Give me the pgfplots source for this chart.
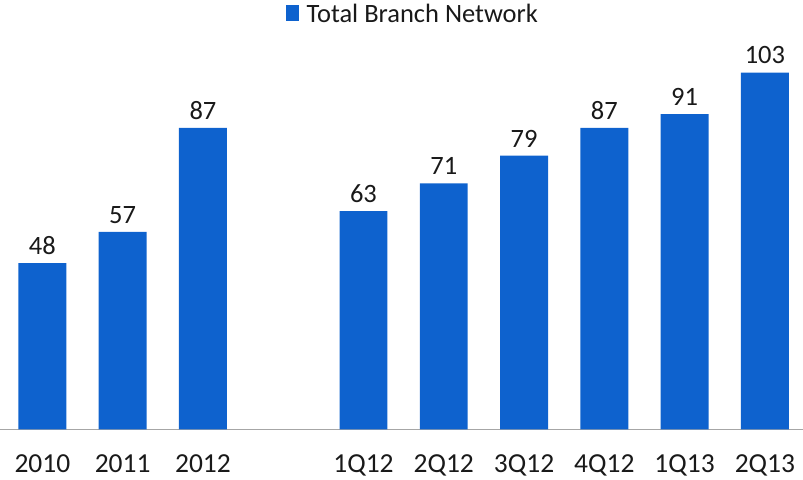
\documentclass[border=0pt]{standalone}
\usepackage{pgfplots}
\pgfplotsset{compat=1.18}
\usepackage{fontspec}
\setmainfont{Carlito}
\definecolor{barblue}{RGB}{14,98,206}
\definecolor{txt}{RGB}{25,25,25}
\begin{document}
\begin{tikzpicture}
\begin{axis}[
  scale only axis, width=803pt, height=430pt,
  xmin=-0.523, xmax=9.47, ymin=0, ymax=124,
  axis y line=none, axis x line*=bottom,
  x axis line style={draw=gray!70, line width=0.8pt},
  ybar, bar width=48pt,
  xtick={0,1,2,4,5,6,7,8,9},
  xticklabels={2010,2011,2012,1Q12,2Q12,3Q12,4Q12,1Q13,2Q13},
  xtick style={draw=none}, major tick length=0pt,
  xticklabel style={font=\fontsize{27.5}{30}\selectfont, text=txt, yshift=-22pt},
  /pgf/number format/assume math mode=true,
  nodes near coords,
  nodes near coords style={font=\fontsize{26.5}{30}\selectfont, text=txt, yshift=5pt},
  clip=false,
  legend style={at={(0.514,1)}, anchor=north, draw=none, fill=none,
    font=\fontsize{26.5}{30}\selectfont, text=txt, inner sep=2pt},
  legend image code/.code={\fill[barblue] (0pt,-7.5pt) rectangle (13pt,8.5pt); \path (19pt,0pt);},
]
\addplot[fill=barblue, draw=none] coordinates {(0,48) (1,57) (2,87) (4,63) (5,71) (6,79) (7,87) (8,91) (9,103)};
\legend{Total Branch Network}
\end{axis}
\end{tikzpicture}
\end{document}
